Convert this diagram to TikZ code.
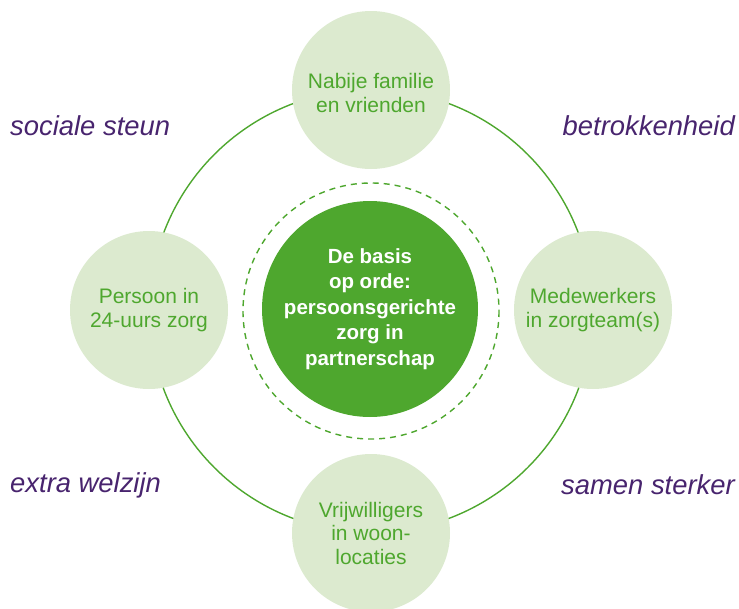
\documentclass[tikz,border=0pt]{standalone}
\usepackage{fontspec}
\setmainfont{Liberation Sans}
\definecolor{dgreen}{RGB}{78,167,46}
\definecolor{lgreen}{RGB}{220,234,207}
\definecolor{purp}{RGB}{72,36,110}
\tikzset{
  outer/.style={circle, fill=lgreen, minimum size=158pt, inner sep=0pt, text=dgreen, align=center, font=\fontsize{21}{23.5}\selectfont},
  core/.style={circle, fill=dgreen, minimum size=216pt, inner sep=0pt, text=white, align=center, font=\fontsize{20.5}{25.5}\selectfont\bfseries},
  theme/.style={text=purp, font=\fontsize{27.4}{30}\selectfont\itshape, inner sep=0pt},
  ringline/.style={draw=dgreen, line width=1.4pt},
  dashring/.style={draw=dgreen, line width=1.4pt, dash pattern=on 6pt off 5pt}
}
\begin{document}
\begin{tikzpicture}[x=1pt,y=-1pt]
\useasboundingbox (0,0) rectangle (739,608);
\clip (0,0) rectangle (739,608);
\coordinate (c) at (371,311);
\draw[ringline] (c) circle[radius=221.5];
\draw[dashring] (c) circle[radius=128];
\node[core] (core) at (370,309) {De basis\\op orde:\\persoonsgerichte\\zorg in\\partnerschap};
\node[outer] (top) at (371,90) {};
\node[text=dgreen, align=center, font=\fontsize{21}{23.5}\selectfont] (toptext) at (371,93) {Nabije familie\\en vrienden};
\node[outer] (left) at (149,310) {Persoon in\\24-uurs zorg};
\node[outer] (right) at (593,310) {Medewerkers\\in zorgteam(s)};
\node[outer] (bottom) at (371,533) {Vrijwilligers\\in woon-\\locaties};
\node[theme, anchor=west] (t1) at (10,126) {sociale steun};
\node[theme, anchor=east] (t2) at (735,126) {betrokkenheid};
\node[theme, anchor=west] (t3) at (10,485) {extra welzijn};
\node[theme, anchor=east] (t4) at (735,485) {samen sterker};
\end{tikzpicture}
\end{document}
